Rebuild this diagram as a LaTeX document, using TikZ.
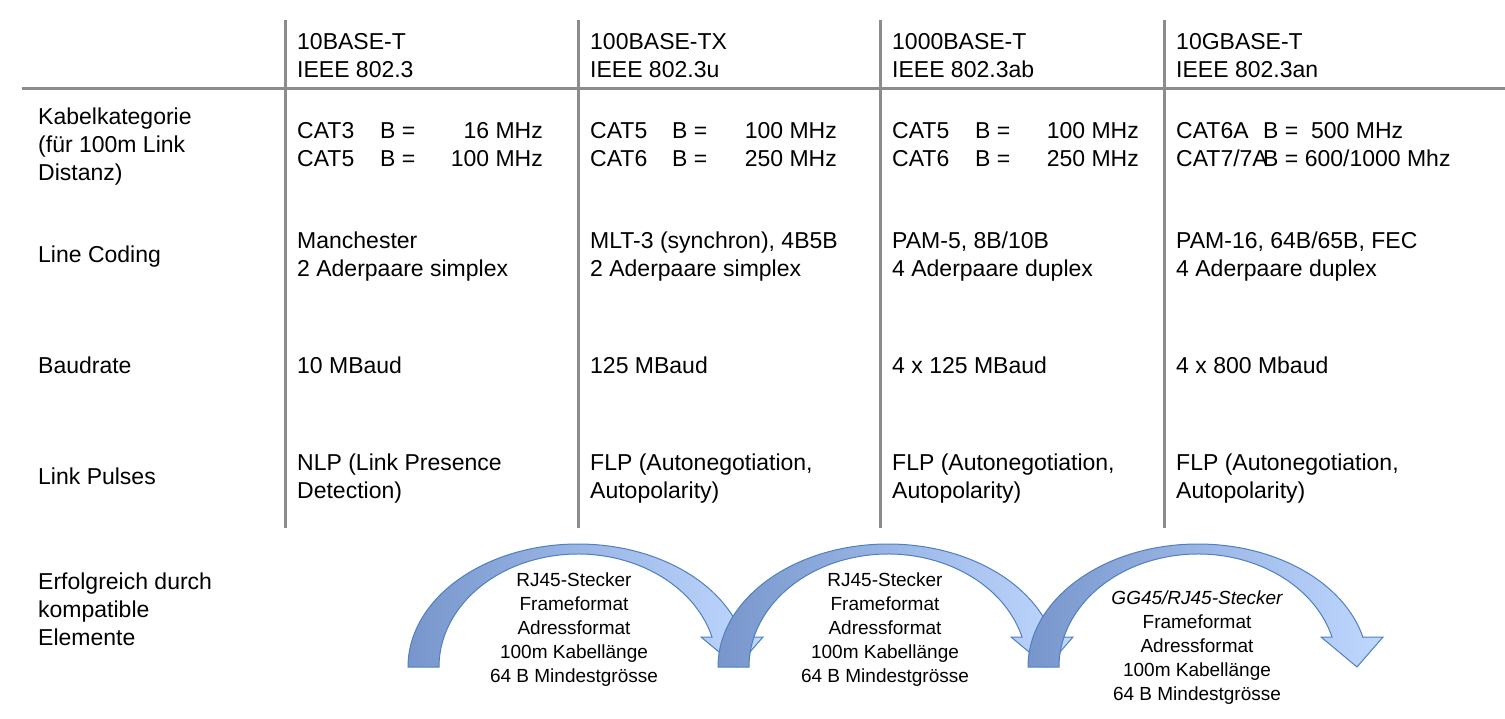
\documentclass[tikz,border=0pt]{standalone}
\usepackage{fontspec}
\setmainfont{Liberation Sans}
\definecolor{gridc}{HTML}{8C8C8C}
\definecolor{arrB}{HTML}{4F7FC0}
\definecolor{arrL}{HTML}{7896CC}
\definecolor{arrM}{HTML}{A7B3CC}
\definecolor{arrR}{HTML}{BFD8FF}
\begin{document}
\begin{tikzpicture}[x=1pt,y=-1pt,
  t/.style={anchor=base west,inner sep=0pt,font=\fontsize{23}{28}\selectfont},
  tr/.style={anchor=base east,inner sep=0pt,font=\fontsize{23}{28}\selectfont},
  a/.style={anchor=base,inner sep=0pt,font=\fontsize{19}{24}\selectfont},
  grid/.style={draw=gridc,line width=3pt},
  carrow/.style={draw=arrB,line width=1pt,left color=arrL,middle color=arrM,right color=arrR}]
\useasboundingbox (0,0) rectangle (1505,718);
% grid
\draw[grid] (22,88) -- (1505,88);
\foreach \x/\n in {285/v1,578/v2,880/v3,1164/v4}{\coordinate (\n t) at (\x,20); \coordinate (\n b) at (\x,528); \draw[grid] (\n t) -- (\n b);}
% header
\node[t] (h1a) at (297,49) {10BASE-T};
\node[t] (h1b) at (297,77) {IEEE 802.3};
\node[t] (h2a) at (590,49) {100BASE-TX};
\node[t] (h2b) at (590,77) {IEEE 802.3u};
\node[t] (h3a) at (892,49) {1000BASE-T};
\node[t] (h3b) at (892,77) {IEEE 802.3ab};
\node[t] (h4a) at (1176,49) {10GBASE-T};
\node[t] (h4b) at (1176,77) {IEEE 802.3an};
% row labels
\node[t] (l1a) at (38,124) {Kabelkategorie};
\node[t] (l1b) at (38,152) {(für 100m Link};
\node[t] (l1c) at (38,180) {Distanz)};
\node[t] (l2) at (38,262) {Line Coding};
\node[t] (l3) at (38,373) {Baudrate};
\node[t] (l4) at (38,484) {Link Pulses};
\node[t] (l5a) at (38,589) {Erfolgreich durch};
\node[t] (l5b) at (38,617) {kompatible};
\node[t] (l5c) at (38,645) {Elemente};
% Kabel
\node[t] (k1a) at (297,138) {CAT3};
\node[t] (k1b) at (380,138) {B =};
\node[tr] (k1c) at (543,138) {16 MHz};
\node[t] (k1d) at (297,166) {CAT5};
\node[t] (k1e) at (380,166) {B =};
\node[tr] (k1f) at (543,166) {100 MHz};
\node[t] (k2a) at (590,138) {CAT5};
\node[t] (k2b) at (672,138) {B =};
\node[tr] (k2c) at (837,138) {100 MHz};
\node[t] (k2d) at (590,166) {CAT6};
\node[t] (k2e) at (672,166) {B =};
\node[tr] (k2f) at (837,166) {250 MHz};
\node[t] (k3a) at (892,138) {CAT5};
\node[t] (k3b) at (975,138) {B =};
\node[tr] (k3c) at (1139,138) {100 MHz};
\node[t] (k3d) at (892,166) {CAT6};
\node[t] (k3e) at (975,166) {B =};
\node[tr] (k3f) at (1139,166) {250 MHz};
\node[t] (k4a) at (1176,138) {CAT6A};
\node[t] (k4b) at (1263,138) {B =\ \ 500 MHz};
\node[t] (k4d) at (1176,166) {CAT7/7A};
\node[t] (k4e) at (1263,166) {B = 600/1000 Mhz};
% Line coding
\node[t] (c1a) at (297,248) {Manchester};
\node[t] (c1b) at (297,276) {2 Aderpaare simplex};
\node[t] (c2a) at (590,248) {MLT-3 (synchron), 4B5B};
\node[t] (c2b) at (590,276) {2 Aderpaare simplex};
\node[t] (c3a) at (892,248) {PAM-5, 8B/10B};
\node[t] (c3b) at (892,276) {4 Aderpaare duplex};
\node[t] (c4a) at (1176,248) {PAM-16, 64B/65B, FEC};
\node[t] (c4b) at (1176,276) {4 Aderpaare duplex};
% Baud
\node[t] (b1) at (297,373) {10 MBaud};
\node[t] (b2) at (590,373) {125 MBaud};
\node[t] (b3) at (892,373) {4 x 125 MBaud};
\node[t] (b4) at (1176,373) {4 x 800 Mbaud};
% Link pulses
\node[t] (p1a) at (297,470) {NLP (Link Presence};
\node[t] (p1b) at (297,498) {Detection)};
\node[t] (p2a) at (590,470) {FLP (Autonegotiation,};
\node[t] (p2b) at (590,498) {Autopolarity)};
\node[t] (p3a) at (892,470) {FLP (Autonegotiation,};
\node[t] (p3b) at (892,498) {Autopolarity)};
\node[t] (p4a) at (1176,470) {FLP (Autonegotiation,};
\node[t] (p4b) at (1176,498) {Autopolarity)};
% curved arrows
\foreach \s in {-620,-310,0}{
\begin{scope}[xshift=\s pt]
\path[carrow] (1028,667) arc[start angle=180,end angle=14,x radius=170pt,y radius=123pt]
  -- (1383,637) -- (1357,667) -- (1321,637) -- (1332,637)
  arc[start angle=15.4,end angle=180,x radius=139pt,y radius=113pt] -- cycle;
\end{scope}}
% arrow texts
\foreach \n/\x/\y in {a/574/586,b/885/586}{
\node[a] (\n1) at (\x,\y) {RJ45-Stecker};
\node[a] (\n2) at (\x,\y+24) {Frameformat};
\node[a] (\n3) at (\x,\y+48) {Adressformat};
\node[a] (\n4) at (\x,\y+72) {100m Kabellänge};
\node[a] (\n5) at (\x,\y+96) {64 B Mindestgrösse};}
\node[a] (c1) at (1197,604) {\itshape GG45/RJ45-Stecker};
\node[a] (c2) at (1197,628) {Frameformat};
\node[a] (c3) at (1197,652) {Adressformat};
\node[a] (c4) at (1197,676) {100m Kabellänge};
\node[a] (c5) at (1197,700) {64 B Mindestgrösse};
\end{tikzpicture}
\end{document}
